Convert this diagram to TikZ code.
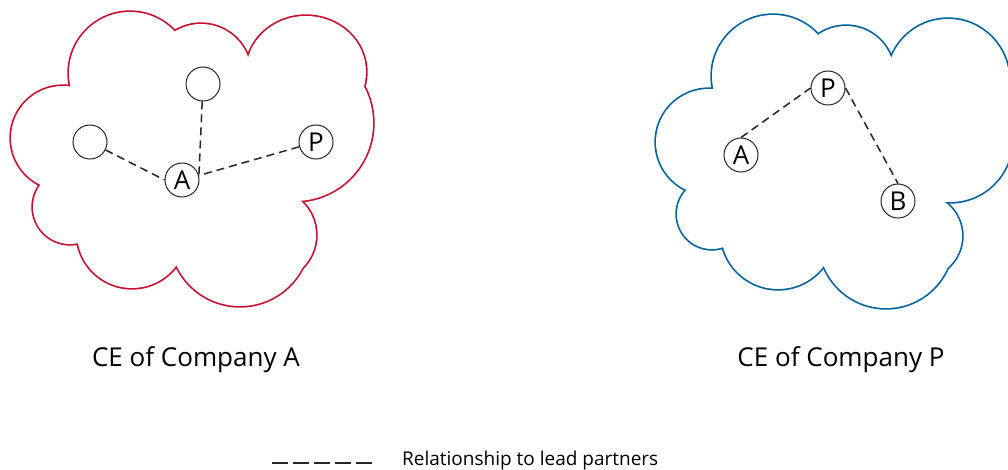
\documentclass[tikz,border=0pt]{standalone}
\usepackage{fontspec}
\setmainfont{Open Sans}
\usepackage{tikz}
\usetikzlibrary{positioning}
\definecolor{ceRed}{RGB}{200, 16, 46}
\definecolor{ceBlue}{RGB}{0, 98, 160}

\begin{document}
\begin{tikzpicture}[
        x=1pt, y=-1pt,
        font=\fontsize{26}{30}\selectfont,
        puffline/.style={line width=3.4pt},
        member/.style={circle, draw=black!85, line width=1pt, minimum size=34pt, inner sep=0pt},
        rel/.style={line width=1.5pt, black!85, dash pattern=on 8pt off 5pt},
        caption/.style={anchor=base}
    ]
        \useasboundingbox (0,0) rectangle (1008,470);
        \clip (0,0) rectangle (1008,470);

        % Cloud of Company A (union of puffs: stroke, then fill white)
        \foreach \cx/\cy/\rx/\ry in {63/138/52/52, 130/73/61/61, 201/74/50/50, 306/72/60/56,
                295/123/78/78, 270/235/46/46, 240/236/70/70, 132/233/55/55, 70/207/37/37,
                190/160/95/95, 100/180/30/30}
            \draw[puffline, ceRed] (\cx,\cy) ellipse[x radius=\rx, y radius=\ry];
        \foreach \cx/\cy/\rx/\ry in {63/138/52/52, 130/73/61/61, 201/74/50/50, 306/72/60/56,
                295/123/78/78, 270/235/46/46, 240/236/70/70, 132/233/55/55, 70/207/37/37,
                190/160/95/95, 100/180/30/30}
            \fill[white] (\cx,\cy) ellipse[x radius=\rx, y radius=\ry];

        % Cloud of Company P
        \foreach \cx/\cy/\r in {709/142/53, 773/76/61, 846/74/48, 948/80/61, 958/110/55, 950/140/62,
                920/236/42, 886/241/67, 778/232/57, 712/214/35, 830/165/90, 745/190/30, 890/110/30}
            \draw[puffline, ceBlue] (\cx,\cy) circle[radius=\r];
        \foreach \cx/\cy/\r in {709/142/53, 773/76/61, 846/74/48, 948/80/61, 958/110/55, 950/140/62,
                920/236/42, 886/241/67, 778/232/57, 712/214/35, 830/165/90, 745/190/30, 890/110/30}
            \fill[white] (\cx,\cy) circle[radius=\r];

        % Members, Company A
        \node[member] (aTop) at (203,84) {};
        \node[member] (aLeft) at (90,142) {};
        \node[member] (aP) at (316,142) {P};
        \node[member] (aA) at (182,180) {A};

        % Members, Company P
        \node[member] (pP) at (828,88) {P};
        \node[member] (pA) at (741,155) {A};
        \node[member] (pB) at (898,201) {B};

        % Relationships
        \draw[rel] (aLeft) -- (aA.west);
        \draw[rel] (aTop) -- (aA.15);
        \draw[rel] (aP) -- (aA.15);
        \draw[rel] (pA.north) -- (pP.west);
        \draw[rel] (pP.east) -- (pB.north);

        % Captions
        \node[caption] (capA) at (196,366) {CE of Company A};
        \node[caption] (capP) at (841,366) {CE of Company P};

        % Legend
        \coordinate (legL) at (272,463);
        \coordinate (legR) at (372,463);
        \draw[line width=2pt, black!85, dash pattern=on 16pt off 5pt] (legL) -- (legR);
        \node[anchor=base west, inner sep=0pt, font=\fontsize{19}{22}\selectfont] (legText) at (402,465) {Relationship to lead partners};
    \end{tikzpicture}
\end{document}
